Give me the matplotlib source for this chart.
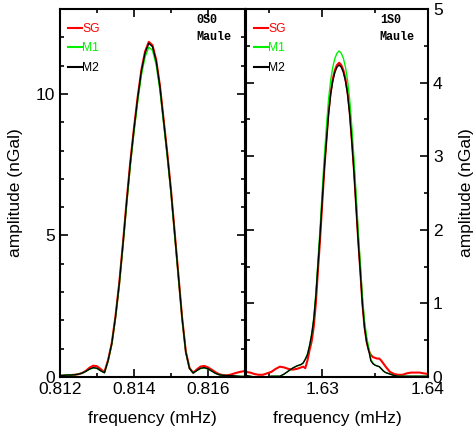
import numpy as np
import matplotlib
matplotlib.use("Agg")
import matplotlib.pyplot as plt
from matplotlib.ticker import MultipleLocator, FixedLocator

plt.rcParams['font.family'] = ['Liberation Sans', 'DejaVu Sans']

# ---------------- data: 0S0 ----------------
freq_0s0 = [0.8120, 0.8121, 0.8122, 0.8123, 0.8124, 0.8125, 0.8126, 0.8127, 0.8128, 0.8129,
            0.8130, 0.8131, 0.8132, 0.8133, 0.8134, 0.8135, 0.8136, 0.8137, 0.8138, 0.8139,
            0.8140, 0.8141, 0.8142, 0.8143, 0.8144, 0.8145, 0.8146, 0.8147, 0.8148, 0.8149,
            0.8150, 0.8151, 0.8152, 0.8153, 0.8154, 0.8155, 0.8156, 0.8157, 0.8158, 0.8159,
            0.8160, 0.8161, 0.8162, 0.8163, 0.8164, 0.8165, 0.8166, 0.8167, 0.8168, 0.8169,
            0.8170]
sg_0s0 = [0.04, 0.05, 0.06, 0.07, 0.08, 0.10, 0.14, 0.22, 0.33, 0.40,
          0.38, 0.28, 0.17, 0.60, 1.20, 2.15, 3.30, 4.70, 6.20, 7.60,
          8.80, 9.90, 10.85, 11.50, 11.84, 11.72, 11.20, 10.30, 9.10, 7.90,
          6.60, 5.10, 3.60, 2.10, 0.90, 0.32, 0.15, 0.27, 0.37, 0.39,
          0.34, 0.26, 0.17, 0.10, 0.07, 0.06, 0.08, 0.12, 0.16, 0.19,
          0.21]
m1_0s0 = [0.05, 0.06, 0.07, 0.07, 0.08, 0.10, 0.14, 0.20, 0.28, 0.32,
          0.30, 0.22, 0.15, 0.57, 1.16, 2.09, 3.22, 4.60, 6.08, 7.45,
          8.64, 9.72, 10.66, 11.31, 11.65, 11.54, 11.02, 10.13, 8.95, 7.76,
          6.48, 5.00, 3.53, 2.06, 0.87, 0.30, 0.14, 0.23, 0.30, 0.32,
          0.28, 0.21, 0.13, 0.08, 0.06, 0.05, 0.05, 0.04, 0.03, 0.02,
          0.02]
m2_0s0 = [0.05, 0.06, 0.07, 0.07, 0.08, 0.10, 0.14, 0.20, 0.28, 0.33,
          0.31, 0.22, 0.15, 0.58, 1.18, 2.12, 3.27, 4.66, 6.16, 7.55,
          8.75, 9.85, 10.80, 11.45, 11.79, 11.67, 11.15, 10.25, 9.05, 7.85,
          6.55, 5.06, 3.57, 2.08, 0.88, 0.30, 0.14, 0.23, 0.31, 0.33,
          0.29, 0.21, 0.13, 0.08, 0.06, 0.05, 0.05, 0.04, 0.03, 0.02,
          0.02]

# ---------------- data: 1S0 ----------------
freq_1s0 = [1.6228, 1.6232, 1.6236, 1.6240, 1.6244, 1.6248, 1.6252, 1.6256, 1.6260, 1.6264,
            1.6268, 1.6272, 1.6276, 1.6278, 1.6280, 1.6282, 1.6284, 1.6286, 1.6288, 1.6290,
            1.6292, 1.6294, 1.6296, 1.6298, 1.6300, 1.6302, 1.6304, 1.6306, 1.6308, 1.6310,
            1.6312, 1.6314, 1.6316, 1.6318, 1.6320, 1.6322, 1.6324, 1.6326, 1.6328, 1.6330,
            1.6332, 1.6334, 1.6336, 1.6338, 1.6340, 1.6342, 1.6344, 1.6346, 1.6348, 1.6350,
            1.6352, 1.6354, 1.6356, 1.6358, 1.6360, 1.6364, 1.6368, 1.6372, 1.6376, 1.6380,
            1.6384, 1.6388, 1.6392, 1.6396, 1.6400]
sg_1s0 = [0.07, 0.06, 0.04, 0.03, 0.03, 0.05, 0.07, 0.11, 0.14, 0.13,
          0.11, 0.10, 0.11, 0.12, 0.13, 0.14, 0.12, 0.22, 0.36, 0.48,
          0.68, 1.00, 1.45, 1.87, 2.35, 2.82, 3.22, 3.60, 3.87, 4.05,
          4.17, 4.24, 4.27, 4.24, 4.17, 4.05, 3.87, 3.60, 3.22, 2.82,
          2.35, 1.87, 1.45, 1.00, 0.68, 0.48, 0.36, 0.30, 0.27, 0.26,
          0.25, 0.25, 0.22, 0.18, 0.14, 0.07, 0.04, 0.03, 0.03, 0.05,
          0.06, 0.06, 0.06, 0.05, 0.04]
m1_1s0 = [0.02, 0.01, 0.00, 0.00, 0.00, 0.00, 0.01, 0.01, 0.01, 0.04,
          0.08, 0.12, 0.15, 0.16, 0.17, 0.19, 0.24, 0.31, 0.42, 0.58,
          0.80, 1.14, 1.58, 2.02, 2.52, 2.99, 3.40, 3.77, 4.03, 4.21,
          4.33, 4.40, 4.43, 4.40, 4.33, 4.21, 4.03, 3.77, 3.40, 2.98,
          2.50, 2.00, 1.55, 1.10, 0.76, 0.55, 0.40, 0.24, 0.19, 0.16,
          0.15, 0.14, 0.11, 0.08, 0.06, 0.04, 0.02, 0.01, 0.01, 0.01,
          0.01, 0.01, 0.01, 0.01, 0.01]
m2_1s0 = [0.02, 0.01, 0.00, 0.00, 0.00, 0.00, 0.01, 0.01, 0.01, 0.04,
          0.08, 0.12, 0.15, 0.16, 0.17, 0.19, 0.24, 0.30, 0.42, 0.57,
          0.78, 1.10, 1.52, 1.94, 2.40, 2.84, 3.21, 3.57, 3.84, 4.02,
          4.14, 4.21, 4.24, 4.21, 4.14, 4.02, 3.84, 3.57, 3.21, 2.80,
          2.33, 1.86, 1.44, 1.00, 0.68, 0.48, 0.36, 0.22, 0.18, 0.16,
          0.15, 0.14, 0.11, 0.08, 0.06, 0.04, 0.02, 0.01, 0.01, 0.01,
          0.01, 0.01, 0.01, 0.01, 0.01]

series_names = ['SG', 'M1', 'M2']
series_colors = ['#ff0000', '#00f000', '#000000']
series_lw = [1.5, 1.0, 1.0]

xticks_0s0 = [0.812, 0.814, 0.816]
xticklabels_0s0 = ['0.812', '0.814', '0.816']
xticks_1s0 = [1.63, 1.64]
xticklabels_1s0 = ['1.63', '1.64']
yticks_0s0 = [0, 5, 10]
yticks_1s0 = [0, 1, 2, 3, 4, 5]

mode_labels = ['0S0', '1S0']
event = 'Maule'

FS = 12.5

fig = plt.figure(figsize=(4.75, 4.32), dpi=100)
ax1 = fig.add_axes([60/475, 55/432, 185/475, 368/432])
ax2 = fig.add_axes([246/475, 55/432, 182/475, 368/432])

def style(ax):
    for s in ax.spines.values():
        s.set_linewidth(1.5)
    ax.tick_params(which='both', direction='in', top=True, bottom=True,
                   left=True, right=True, width=1.2, labelsize=FS)
    ax.tick_params(which='major', length=6)
    ax.tick_params(which='minor', length=3)

for ax, fr, data, mode in [(ax1, freq_0s0, [sg_0s0, m1_0s0, m2_0s0], mode_labels[0]),
                           (ax2, freq_1s0, [sg_1s0, m1_1s0, m2_1s0], mode_labels[1])]:
    for name, vals, c, lw in zip(series_names, data, series_colors, series_lw):
        ax.plot(fr, vals, color=c, lw=lw, label=name)
    style(ax)
    leg = ax.legend(loc='upper left', frameon=False, fontsize=8.7,
                    handlelength=1.1, handletextpad=0.05, labelspacing=0.62,
                    borderaxespad=0.3, bbox_to_anchor=(0.0, 0.985))
    for t, c in zip(leg.get_texts(), series_colors):
        t.set_color(c)
    for h in leg.get_lines():
        h.set_linewidth(1.5)
    ax.text(0.735, 0.97, mode, transform=ax.transAxes, fontsize=8.5,
            family='Liberation Mono', fontweight='bold', va='center', ha='left')
    ax.text(0.735, 0.925, event, transform=ax.transAxes, fontsize=8.5,
            family='Liberation Mono', fontweight='bold', va='center', ha='left')
    ax.set_xlabel('frequency (mHz)', fontsize=FS, labelpad=10)

ax1.set_xlim(0.812, 0.817)
ax1.set_ylim(0, 13)
ax1.xaxis.set_major_locator(FixedLocator(xticks_0s0))
ax1.set_xticklabels(xticklabels_0s0)
ax1.xaxis.set_minor_locator(MultipleLocator(0.001))
ax1.yaxis.set_major_locator(FixedLocator(yticks_0s0))
ax1.yaxis.set_minor_locator(MultipleLocator(1))
ax1.set_ylabel('amplitude (nGal)', fontsize=FS, labelpad=9)

ax2.set_xlim(1.6228, 1.64)
ax2.set_ylim(0, 5)
ax2.xaxis.set_major_locator(FixedLocator(xticks_1s0))
ax2.set_xticklabels(xticklabels_1s0)
ax2.xaxis.set_minor_locator(MultipleLocator(0.005))
ax2.yaxis.set_major_locator(FixedLocator(yticks_1s0))
ax2.yaxis.set_minor_locator(MultipleLocator(0.5))
ax2.tick_params(axis='y', which='both', labelleft=False, labelright=True)
ax2.yaxis.set_label_position('right')
ax2.set_ylabel('amplitude (nGal)', fontsize=FS, labelpad=12)

fig.savefig('out.png', dpi=100)
